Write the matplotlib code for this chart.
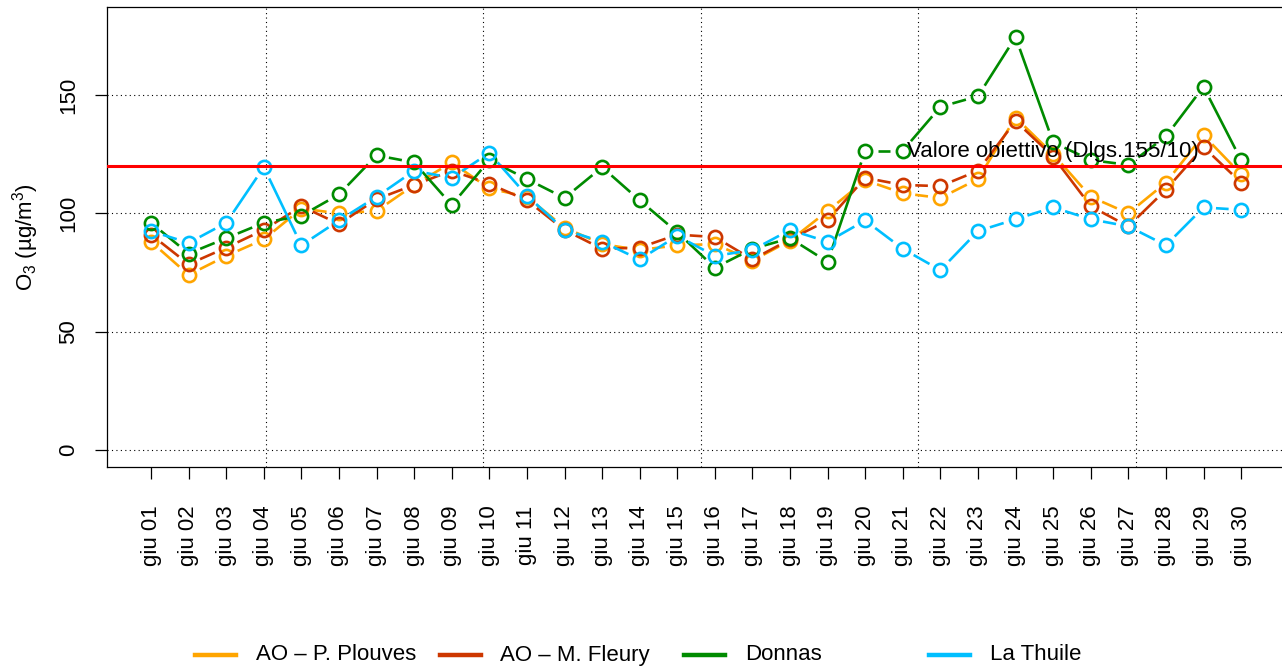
import numpy as np
import matplotlib
matplotlib.use("Agg")
import matplotlib.pyplot as plt
from matplotlib.collections import LineCollection
from matplotlib.lines import Line2D

plt.rcParams['font.family'] = ['Liberation Sans', 'DejaVu Sans']
plt.rcParams['mathtext.fontset'] = 'custom'
plt.rcParams['mathtext.rm'] = 'Liberation Sans'
plt.rcParams['mathtext.it'] = 'Liberation Sans:italic'
plt.rcParams['font.size'] = 16

# --- data (daily max 8h O3, June) ---
days = ["giu %02d" % d for d in range(1, 31)]

plouves = [88, 74, 82, 89, 102, 100, 101, 112, 121.5, 110.5,
           107, 94, 87, 84.5, 86.5, 87, 80, 88.5, 101, 114,
           108.5, 106.5, 114.5, 140.5, 125, 107, 100, 113, 133, 116.5]
fleury = [91, 78.5, 85.5, 93, 103, 95.5, 106, 112, 118, 112.5,
          105.5, 93, 85, 85.5, 91, 90, 80.5, 89, 97, 115,
          112, 111.5, 118, 139, 124, 103, 94.5, 110, 128, 113]
donnas = [96, 83, 89.5, 96, 99, 108, 124.5, 121.5, 103.5, 122.5,
          114.5, 106.5, 119.5, 105.5, 92, 77, 85, 89.5, 79.5, 126.5,
          126.5, 145, 149.5, 174.5, 130, 122.5, 120.5, 132.5, 153.5, 122.5]
thuile = [92.5, 87.5, 96, 119.5, 86.5, 97, 107, 118, 115, 125.5,
          107.5, 93, 88, 80.5, 90.5, 82, 84.5, 93, 88, 97,
          85, 76, 92.5, 97.5, 102.5, 97.5, 94.5, 86.5, 102.5, 101.5]

series_names = ["AO \u2013 P. Plouves", "AO \u2013 M. Fleury", "Donnas", "La Thuile"]
series_vals = [plouves, fleury, donnas, thuile]
series_cols = ["#FFA500", "#CD3700", "#008B00", "#00BFFF"]

target = 120
target_label = "Valore obiettivo (Dlgs.155/10)"

# vertical grid at pretty() ticks of the POSIXct axis (every 500000 s)
t0 = 1748736000  # 2025-06-01 00:00 UTC
grid_sec = np.arange(1749000000, 1751500001, 500000)
grid_x = (grid_sec - t0) / 86400.0

x = np.arange(len(days))

fig = plt.figure(figsize=(12.82, 6.68), dpi=100)
ax = fig.add_axes([0.0838, 0.3009, 0.9183, 0.6886])
ax.set_xlim(-1.16, 30.16)
ax.set_ylim(-7.2, 187.2)

for s in ax.spines.values():
    s.set_linewidth(0.9)

# grid (R grid(): dotted)
for g in [0, 50, 100, 150]:
    ax.axhline(g, color='black', lw=0.8, ls=(0, (1, 3)), zorder=1)
for g in grid_x:
    ax.axvline(g, color='black', lw=0.8, ls=(0, (1, 3)), zorder=1)

# R type="b": lines broken around the points
gap = 12.5  # px
fig.canvas.draw()
for vals, col in zip(series_vals, series_cols):
    pts = ax.transData.transform(np.column_stack([x, vals]))
    segs = []
    for p1, p2 in zip(pts[:-1], pts[1:]):
        d = p2 - p1
        L = np.hypot(*d)
        if L <= 2 * gap:
            continue
        u = d / L
        a = ax.transData.inverted().transform(p1 + u * gap)
        b = ax.transData.inverted().transform(p2 - u * gap)
        segs.append([a, b])
    ax.add_collection(LineCollection(segs, colors=col, linewidths=1.9, zorder=3,
                                     capstyle='butt'))
    ax.plot(x, vals, ls='none', marker='o', ms=9.5, mfc='none', mec=col,
            mew=1.9, zorder=3)

ax.axhline(target, color='#FF0000', lw=2.2, zorder=4)
ax.text(24, 126, target_label, ha='center', va='center', fontsize=16, zorder=5)

ax.set_xticks(x)
ax.set_xticklabels(days, rotation=90, va='top', ha='center')
ax.set_yticks([0, 50, 100, 150])
ax.set_yticklabels(['0', '50', '100', '150'], rotation=90, va='center')
ax.tick_params(axis='both', length=8.6, width=0.9, direction='out', labelsize=16)
ax.tick_params(axis='x', pad=19)
ax.tick_params(axis='y', pad=12)
ax.set_ylabel('O$_3$ (\u00b5g/m$^3$)', fontsize=16, labelpad=12)

# legend row at bottom, equally spaced items (R legend horiz)
W, H = fig.get_size_inches() * fig.dpi
leg_y = 1 - 655 / H
for k, (name, col) in enumerate(zip(series_names, series_cols)):
    x0 = (195 + 244.5 * k) / W
    fig.add_artist(Line2D([x0, x0 + 41 / W], [leg_y, leg_y], color=col, lw=3.2,
                          transform=fig.transFigure))
    fig.text(x0 + 61 / W, leg_y, name, ha='left', va='center', fontsize=16)

fig.savefig('out.png', dpi=100)
